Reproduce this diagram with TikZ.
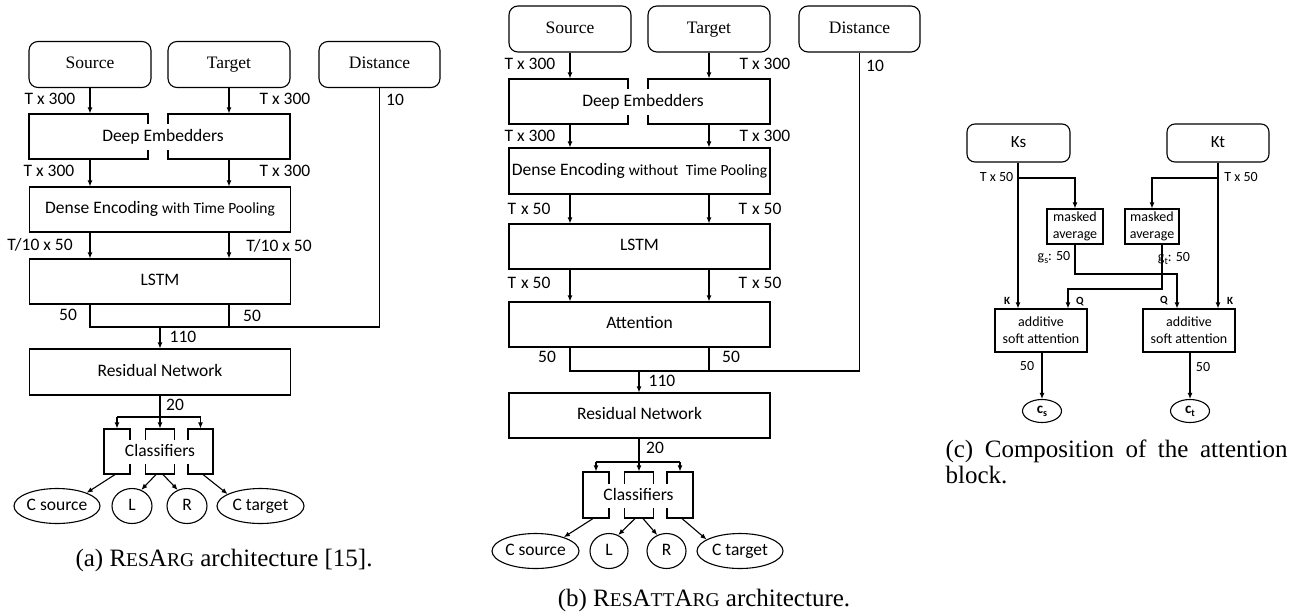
\documentclass[tikz,border=0pt]{standalone}
\usepackage{fontspec}
\setmainfont{Liberation Serif}
\setsansfont{Carlito}
\usetikzlibrary{arrows.meta,shapes.geometric}
\newcommand\szSrc{\fontsize{17.5}{20}\selectfont}
\newcommand\szM{\fontsize{17.5}{20}\selectfont}
\newcommand\szS{\fontsize{15.5}{18}\selectfont}
\newcommand\szC{\fontsize{14}{17}\selectfont}
\newcommand\szCap{\fontsize{25}{26.5}\selectfont}
\newcommand\szCapS{\fontsize{19.5}{20}\selectfont}
\newcommand\subs[1]{\raisebox{-3pt}{\fontsize{10}{10}\selectfont #1}}
\begin{document}
\begin{tikzpicture}[x=1pt,y=-1pt,line width=1.1pt,
  every node/.style={inner sep=0pt},
  tbM/.style={text height=12.6pt,text depth=3.9pt},
  tbC/.style={text height=10pt,text depth=3pt},
  arr/.style={-{Latex[length=6pt,width=5pt]}},
  inbox/.style={draw,rounded corners=9pt,minimum height=46pt,font=\szSrc,tbM},
  blk/.style={draw,minimum height=45pt,font=\sffamily\szM,tbM},
  cover/.style={fill=white,inner xsep=1pt,inner ysep=5pt,font=\sffamily\szM,tbM},
  ov/.style={draw,ellipse,minimum height=35pt,font=\sffamily\szM,tbM},
  lab/.style={font=\sffamily\szM,tbM},
  smbox/.style={draw,font=\sffamily\szC,align=center},
  clab/.style={font=\sffamily\szC,tbC},
  kq/.style={font=\sffamily\bfseries\fontsize{11}{12}\selectfont,text height=8pt,text depth=2pt},
  captext/.style={font=\szCap}
]
\useasboundingbox (0,0) rectangle (1294,614);

% ================= (a) =================
\node[inbox,minimum width=122pt] (aS) at (90,64.5) {Source};
\node[inbox,minimum width=122pt] (aT) at (229,64.5) {Target};
\node[inbox,minimum width=121pt] (aD) at (379.5,64.5) {Distance};
\node[blk,minimum width=119pt] (aE1) at (88.5,136.5) {};
\node[blk,minimum width=122pt] (aE2) at (229,136.5) {};
\node[cover] (aEt) at (163,137) {Deep Embedders};
\node[blk,minimum width=261pt] (aDE) at (160,209.5) {Dense Encoding {\szS with Time Pooling}};
\node[blk,minimum width=261pt] (aL) at (160,281.5) {LSTM};
\node[blk,minimum width=261pt,minimum height=46pt] (aR) at (160,372) {Residual Network};
\coordinate (aJ) at (160,327);
\coordinate (aB) at (160,417);
\node[blk,minimum width=26pt] (aC1) at (117,451.5) {};
\node[blk,minimum width=29pt] (aC2) at (160,451.5) {};
\node[blk,minimum width=25pt] (aC3) at (200.5,451.5) {};
\node[cover,inner ysep=4pt] (aCt) at (160,452) {Classifiers};
\node[ov,minimum width=86pt] (aO1) at (57,506) {C source};
\node[ov,minimum width=40pt] (aO2) at (132,506) {L};
\node[ov,minimum width=40pt] (aO3) at (187,506) {R};
\node[ov,minimum width=87pt] (aO4) at (260.5,506) {C target};

\draw[arr] (aS.south) -- (aS.south |- aE1.north);
\draw[arr] (aT.south) -- (aT.south |- aE2.north);
\draw[arr] (aS.south |- aE1.south) -- (aS.south |- aDE.north);
\draw[arr] (aT.south |- aE2.south) -- (aT.south |- aDE.north);
\draw[arr] (aS.south |- aDE.south) -- (aS.south |- aL.north);
\draw[arr] (aT.south |- aDE.south) -- (aT.south |- aL.north);
\draw (aS.south |- aL.south) -- (aS.south |- aJ) -- (aD.south |- aJ) -- (aD.south);
\draw (aT.south |- aL.south) -- (aT.south |- aJ);
\draw[arr] (aJ) -- (aR.north);
\draw (aR.south) -- (aB);
\draw (aC1.north |- aB) -- (aC3.north |- aB);
\draw[arr] (aC1.north |- aB) -- (aC1.north);
\draw[arr] (aB) -- (aC2.north);
\draw[arr] (aC3.north |- aB) -- (aC3.north);
\draw[arr] ([xshift=-2pt]aC1.south) -- (aO1.24);
\draw[arr] ([xshift=-4pt]aC2.south) -- (aO2.60);
\draw[arr] ([xshift=3pt]aC2.south) -- (aO3.120);
\draw[arr] ([xshift=2.5pt]aC3.south) -- (aO4.160);

\node[lab] (al1) at (50,100) {T x 300};
\node[lab] (al2) at (285,100) {T x 300};
\node[lab] (al3) at (395,101) {10};
\node[lab] (al4) at (49,172) {T x 300};
\node[lab] (al5) at (285,172) {T x 300};
\node[lab] (al6) at (40,246) {T/10 x 50};
\node[lab] (al7) at (279,247) {T/10 x 50};
\node[lab] (al8) at (68,316) {50};
\node[lab] (al9) at (252,317) {50};
\node[lab] (al10) at (183,338) {110};
\node[lab] (al11) at (175,406) {20};
\node[captext] (capa) at (224,560.5) {(a) R{\szCapS ES}A{\szCapS RG} architecture [15].};

% ================= (b) =================
\node[inbox,minimum width=122pt] (bS) at (570,29) {Source};
\node[inbox,minimum width=122pt] (bT) at (709,29) {Target};
\node[inbox,minimum width=121pt] (bD) at (859.5,29) {Distance};
\node[blk,minimum width=119pt] (bE1) at (568.5,101.5) {};
\node[blk,minimum width=122pt] (bE2) at (709,101.5) {};
\node[cover] (bEt) at (643,102) {Deep Embedders};
\node[blk,minimum width=261pt,minimum height=46pt] (bDE) at (639.5,171) {Dense Encoding {\szS without\hspace{4pt} Time Pooling}};
\node[blk,minimum width=261pt] (bL) at (639.5,246.5) {LSTM};
\node[blk,minimum width=261pt] (bA) at (639.5,324.5) {Attention};
\node[blk,minimum width=261pt] (bR) at (639.5,415.5) {Residual Network};
\coordinate (bJ) at (639,371);
\coordinate (bB) at (639,462);
\node[blk,minimum width=26pt,minimum height=46pt] (bC1) at (596,495) {};
\node[blk,minimum width=29pt,minimum height=46pt] (bC2) at (639,495) {};
\node[blk,minimum width=26pt,minimum height=46pt] (bC3) at (680,495) {};
\node[cover,inner ysep=4pt] (bCt) at (638.5,496) {Classifiers};
\node[ov,minimum width=87pt] (bO1) at (535.5,551) {C source};
\node[ov,minimum width=38pt] (bO2) at (609,551) {L};
\node[ov,minimum width=39pt] (bO3) at (666.5,551) {R};
\node[ov,minimum width=86pt] (bO4) at (740,551) {C target};

\draw[arr] (bS.south) -- (bS.south |- bE1.north);
\draw[arr] (bT.south) -- (bT.south |- bE2.north);
\draw[arr] (bS.south |- bE1.south) -- (bS.south |- bDE.north);
\draw[arr] (bT.south |- bE2.south) -- (bT.south |- bDE.north);
\draw[arr] (bS.south |- bDE.south) -- (bS.south |- bL.north);
\draw[arr] (bT.south |- bDE.south) -- (bT.south |- bL.north);
\draw[arr] (bS.south |- bL.south) -- (bS.south |- bA.north);
\draw[arr] (bT.south |- bL.south) -- (bT.south |- bA.north);
\draw (bS.south |- bA.south) -- (bS.south |- bJ) -- (bD.south |- bJ) -- (bD.south);
\draw (bT.south |- bA.south) -- (bT.south |- bJ);
\draw[arr] (bJ) -- (bJ |- bR.north);
\draw (bB |- bR.south) -- (bB);
\draw (bC1.north |- bB) -- (bC3.north |- bB);
\draw[arr] (bC1.north |- bB) -- (bC1.north);
\draw[arr] (bB) -- (bC2.north);
\draw[arr] (bC3.north |- bB) -- (bC3.north);
\draw[arr] ([xshift=-3pt]bC1.south) -- (bO1.26);
\draw[arr] ([xshift=-4pt]bC2.south) -- (bO2.60);
\draw[arr] ([xshift=4pt]bC2.south) -- (bO3.120);
\draw[arr] ([xshift=2pt]bC3.south) -- (bO4.161);

\node[lab] (bl1) at (530,65) {T x 300};
\node[lab] (bl2) at (765,65) {T x 300};
\node[lab] (bl3) at (875,67) {10};
\node[lab] (bl4) at (530,137) {T x 300};
\node[lab] (bl5) at (765,137) {T x 300};
\node[lab] (bl6) at (529,210) {T\hspace{5pt}x 50};
\node[lab] (bl7) at (760,210) {T\hspace{5pt}x 50};
\node[lab] (bl8) at (529,284) {T\hspace{5pt}x 50};
\node[lab] (bl9) at (760,284) {T\hspace{5pt}x 50};
\node[lab] (bl10) at (547,358) {50};
\node[lab] (bl11) at (731,358) {50};
\node[lab] (bl12) at (662,382) {110};
\node[lab] (bl13) at (655,449) {20};
\node[captext] (capb) at (704,600) {(b) R{\szCapS ES}A{\szCapS TT}A{\szCapS RG} architecture.};

% ================= (c) =================
\node[draw,rounded corners=8pt,minimum width=103pt,minimum height=38pt,font=\sffamily\fontsize{17}{20}\selectfont,tbM] (cKs) at (1018.5,143) {Ks};
\node[draw,rounded corners=8pt,minimum width=102pt,minimum height=38pt,font=\sffamily\fontsize{17}{20}\selectfont,tbM] (cKt) at (1218,143) {Kt};
\node[smbox,minimum width=56pt,minimum height=35pt] (cMs) at (1075,226.5) {masked\\average};
\node[smbox,minimum width=54pt,minimum height=35pt] (cMt) at (1152,226.5) {masked\\average};
\node[smbox,minimum width=92pt,minimum height=43pt] (cAs) at (1041,330.5) {additive\\soft attention};
\node[smbox,minimum width=92pt,minimum height=43pt] (cAt) at (1189,330.5) {additive\\soft attention};
\node[draw,ellipse,minimum width=39pt,minimum height=23pt,font=\sffamily\bfseries\fontsize{15}{16}\selectfont] (cCs) at (1042,411) {c\subs{s}};
\node[draw,ellipse,minimum width=39pt,minimum height=23pt,font=\sffamily\bfseries\fontsize{15}{16}\selectfont] (cCt) at (1190,411) {c\subs{t}};
\coordinate (cBs) at (1018,178);
\coordinate (cBt) at (1218,178);
\coordinate (cQs) at (1177,274);
\coordinate (cQt) at (1068,289);
\coordinate (cMo) at (1162,244);

\draw[arr] (cKs.south -| cBs) -- (cBs |- cAs.north);
\draw[arr] (cBs) -| (cMs.north);
\draw[arr] (cKt.south -| cBt) -- (cBt |- cAt.north);
\draw[arr] (cBt) -| (cMt.north);
\draw[arr] (cMs.south) |- (cQs) -- (cQs |- cAt.north);
\draw[arr] (cMo) |- (cQt) -- (cQt |- cAs.north);
\draw[arr] (cAs.south -| cCs) -- (cCs.north);
\draw[arr] (cAt.south -| cCt) -- (cCt.north);

\node[clab] (cl1) at (996.5,178) {T x 50};
\node[clab] (cl2) at (1241,178) {T x 50};
\node[clab] (cl3) at (1054,257) {g\subs{s}: 50};
\node[clab] (cl4) at (1174,258) {g\subs{t}: 50};
\node[kq] (cl5) at (1007,301) {K};
\node[kq] (cl6) at (1080,301) {Q};
\node[kq] (cl7) at (1164,300) {Q};
\node[kq] (cl8) at (1230,301) {K};
\node[clab] (cl9) at (1027,367) {50};
\node[clab] (cl10) at (1203,368) {50};
\node[captext,anchor=north west,align=left] (capc) at (945,439) {\makebox[342pt][s]{(c) Composition of the attention}\\block.};
\end{tikzpicture}
\end{document}
